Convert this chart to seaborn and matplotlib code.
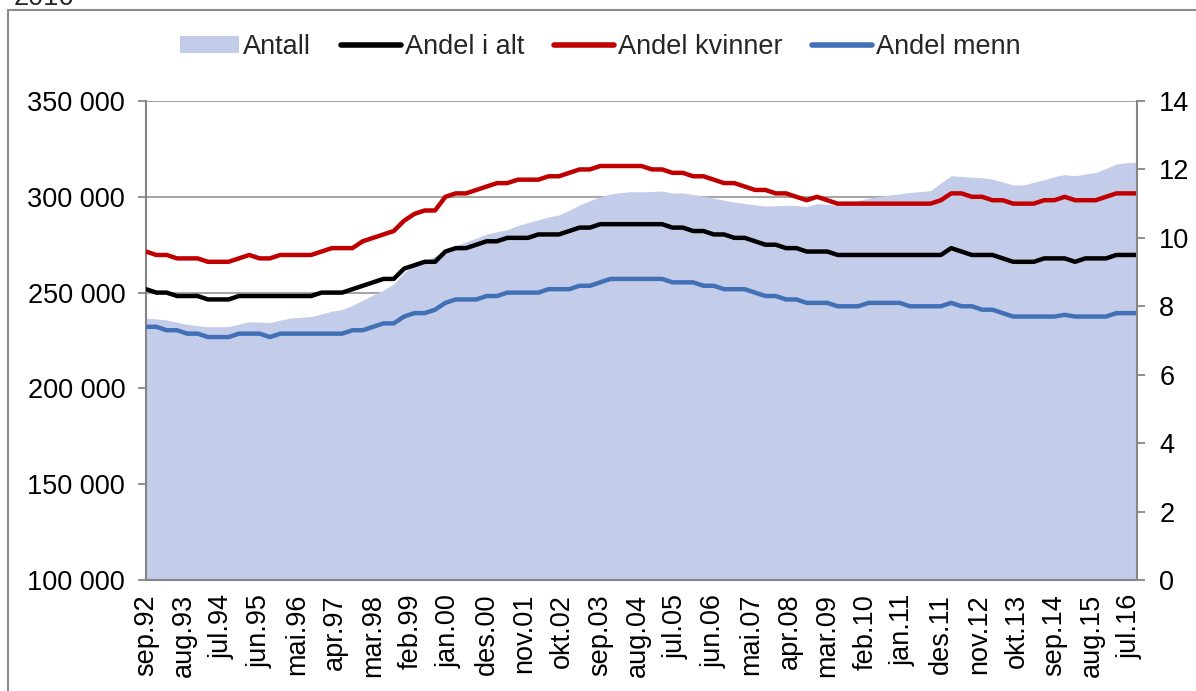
import numpy as np
import pandas as pd
import matplotlib
matplotlib.use("Agg")
import matplotlib.pyplot as plt
from matplotlib.patches import Patch, Rectangle
from matplotlib.lines import Line2D
from matplotlib.ticker import FuncFormatter
import seaborn as sns

# ---------------- data (quarterly readings, sep.92 .. sep.16) ----------------
tick_labels = ["sep.92", "aug.93", "jul.94", "jun.95", "mai.96", "apr.97", "mar.98",
               "feb.99", "jan.00", "des.00", "nov.01", "okt.02", "sep.03", "aug.04",
               "jul.05", "jun.06", "mai.07", "apr.08", "mar.09", "feb.10", "jan.11",
               "des.11", "nov.12", "okt.13", "sep.14", "aug.15", "jul.16"]

antall = [236600, 236300, 235700, 234500, 233400, 232700, 232200, 232200, 232300, 233500,
          234800, 234600, 234300, 235700, 236700, 237100, 237500, 238900, 240300, 241200,
          243300, 246000, 248700, 251300, 254500, 260500, 264000, 266500, 269000, 272000,
          274500, 276500, 278500, 280500, 281800, 282800, 285000, 286500, 288000, 289500,
          290500, 293000, 295700, 298000, 300000, 301500, 302200, 302700, 302600, 302800,
          303000, 302000, 302000, 301200, 300300, 299300, 298200, 297300, 296500, 295800,
          295200, 295300, 295600, 295500, 294800, 296500, 296000, 295700, 296500, 298000,
          299300, 300200, 300900, 301500, 302300, 302700, 303200, 307200, 311000, 310600,
          310200, 309900, 309200, 307700, 306200, 306200, 307600, 308900, 310500, 311600,
          311000, 311900, 312700, 314800, 317100, 317800, 318000]

andel_i_alt = [8.5, 8.4, 8.4, 8.3, 8.3, 8.3, 8.2, 8.2, 8.2, 8.3,
               8.3, 8.3, 8.3, 8.3, 8.3, 8.3, 8.3, 8.4, 8.4, 8.4,
               8.5, 8.6, 8.7, 8.8, 8.8, 9.1, 9.2, 9.3, 9.3, 9.6,
               9.7, 9.7, 9.8, 9.9, 9.9, 10.0, 10.0, 10.0, 10.1, 10.1,
               10.1, 10.2, 10.3, 10.3, 10.4, 10.4, 10.4, 10.4, 10.4, 10.4,
               10.4, 10.3, 10.3, 10.2, 10.2, 10.1, 10.1, 10.0, 10.0, 9.9,
               9.8, 9.8, 9.7, 9.7, 9.6, 9.6, 9.6, 9.5, 9.5, 9.5,
               9.5, 9.5, 9.5, 9.5, 9.5, 9.5, 9.5, 9.5, 9.7, 9.6,
               9.5, 9.5, 9.5, 9.4, 9.3, 9.3, 9.3, 9.4, 9.4, 9.4,
               9.3, 9.4, 9.4, 9.4, 9.5, 9.5, 9.5]

andel_kvinner = [9.6, 9.5, 9.5, 9.4, 9.4, 9.4, 9.3, 9.3, 9.3, 9.4,
                 9.5, 9.4, 9.4, 9.5, 9.5, 9.5, 9.5, 9.6, 9.7, 9.7,
                 9.7, 9.9, 10.0, 10.1, 10.2, 10.5, 10.7, 10.8, 10.8, 11.2,
                 11.3, 11.3, 11.4, 11.5, 11.6, 11.6, 11.7, 11.7, 11.7, 11.8,
                 11.8, 11.9, 12.0, 12.0, 12.1, 12.1, 12.1, 12.1, 12.1, 12.0,
                 12.0, 11.9, 11.9, 11.8, 11.8, 11.7, 11.6, 11.6, 11.5, 11.4,
                 11.4, 11.3, 11.3, 11.2, 11.1, 11.2, 11.1, 11.0, 11.0, 11.0,
                 11.0, 11.0, 11.0, 11.0, 11.0, 11.0, 11.0, 11.1, 11.3, 11.3,
                 11.2, 11.2, 11.1, 11.1, 11.0, 11.0, 11.0, 11.1, 11.1, 11.2,
                 11.1, 11.1, 11.1, 11.2, 11.3, 11.3, 11.3]

andel_menn = [7.4, 7.4, 7.3, 7.3, 7.2, 7.2, 7.1, 7.1, 7.1, 7.2,
              7.2, 7.2, 7.1, 7.2, 7.2, 7.2, 7.2, 7.2, 7.2, 7.2,
              7.3, 7.3, 7.4, 7.5, 7.5, 7.7, 7.8, 7.8, 7.9, 8.1,
              8.2, 8.2, 8.2, 8.3, 8.3, 8.4, 8.4, 8.4, 8.4, 8.5,
              8.5, 8.5, 8.6, 8.6, 8.7, 8.8, 8.8, 8.8, 8.8, 8.8,
              8.8, 8.7, 8.7, 8.7, 8.6, 8.6, 8.5, 8.5, 8.5, 8.4,
              8.3, 8.3, 8.2, 8.2, 8.1, 8.1, 8.1, 8.0, 8.0, 8.0,
              8.1, 8.1, 8.1, 8.1, 8.0, 8.0, 8.0, 8.0, 8.1, 8.0,
              8.0, 7.9, 7.9, 7.8, 7.7, 7.7, 7.7, 7.7, 7.7, 7.75,
              7.7, 7.7, 7.7, 7.7, 7.8, 7.8, 7.8]

MONTHS_PER_POINT = 3
MONTHS_PER_TICK = 11

n = len(antall)
assert len(andel_i_alt) == n and len(andel_kvinner) == n and len(andel_menn) == n
month = np.arange(n) * MONTHS_PER_POINT

df = pd.DataFrame({"month": month, "Antall": antall, "Andel i alt": andel_i_alt,
                   "Andel kvinner": andel_kvinner, "Andel menn": andel_menn})
long = df.melt(id_vars="month", value_vars=["Andel i alt", "Andel kvinner", "Andel menn"],
               var_name="serie", value_name="andel")

# ---------------- style ----------------
sns.set_style("white")
plt.rcParams["font.family"] = ["Liberation Sans", "DejaVu Sans"]
FS = 19.5
GRID = "#A6A6A6"
SPINE = "#868686"
AREA = "#C3CCE8"
palette = {"Andel i alt": "#000000", "Andel kvinner": "#C00000", "Andel menn": "#4270B6"}

fig = plt.figure(figsize=(11.96, 6.91), dpi=100)
ax = fig.add_axes([146 / 1196, 1 - 580 / 691, (1137 - 146) / 1196, (580 - 101) / 691])

# outer chart border (right and bottom edges lie outside the picture)
fig.patches.append(Rectangle((8 / 1196, -0.2), 1.2, 1.2 - 10 / 691, transform=fig.transFigure,
                             fill=False, edgecolor="#8C8C8C", linewidth=1.5))
fig.text(14 / 1196, 1 + 2 / 691, "2016", fontsize=FS, ha="left", va="center")

# area on primary axis
ax.fill_between(df["month"], 100000, df["Antall"], color=AREA, linewidth=0, zorder=1)
ax.set_ylim(100000, 350000)
ax.set_yticks(np.arange(100000, 350001, 50000))
ax.yaxis.set_major_formatter(FuncFormatter(lambda v, p: f"{int(v):,}".replace(",", " ")))
ax.set_axisbelow(True)
ax.grid(axis="y", color=GRID, linewidth=1.5)
ax.grid(axis="x", visible=False)
ax.set_xlim(0, month[-1])
tick_pos = np.arange(len(tick_labels)) * MONTHS_PER_TICK
ax.set_xticks(tick_pos)
ax.set_xticklabels(tick_labels, rotation=90)
ax.set_xlabel("")
ax.set_ylabel("")

# lines on secondary axis
ax2 = ax.twinx()
sns.lineplot(data=long, x="month", y="andel", hue="serie", palette=palette,
             linewidth=3.2, ax=ax2, legend=False)
ax2.set_ylim(0, 14)
ax2.set_yticks(np.arange(0, 15, 2))
ax2.set_xlim(0, month[-1])
ax2.set_xlabel("")
ax2.set_ylabel("")

for a in (ax, ax2):
    a.tick_params(axis="both", labelsize=FS, colors="black", length=6, width=1.3,
                  direction="out")
    a.tick_params(axis="both", color=SPINE)
    for s in a.spines.values():
        s.set_color(SPINE)
        s.set_linewidth(1.5)
    a.spines["top"].set_visible(False)
ax.tick_params(axis="x", pad=4)
ax.spines["right"].set_visible(False)
ax2.spines["left"].set_visible(False)
ax2.spines["bottom"].set_visible(False)
ax.tick_params(axis="y", pad=9)
ax2.tick_params(axis="y", pad=10)

handles = [Patch(facecolor=AREA, edgecolor="none"),
           Line2D([], [], color=palette["Andel i alt"], lw=4, solid_capstyle="round"),
           Line2D([], [], color=palette["Andel kvinner"], lw=4, solid_capstyle="round"),
           Line2D([], [], color=palette["Andel menn"], lw=4, solid_capstyle="round")]
fig.legend(handles, ["Antall", "Andel i alt", "Andel kvinner", "Andel menn"],
           loc="center", bbox_to_anchor=(600 / 1196, 1 - 47 / 691), ncol=4,
           frameon=False, fontsize=FS, handlelength=2.2, handleheight=0.6,
           handletextpad=0.15, columnspacing=1.1, borderpad=0)

fig.savefig("out.png", dpi=100)
